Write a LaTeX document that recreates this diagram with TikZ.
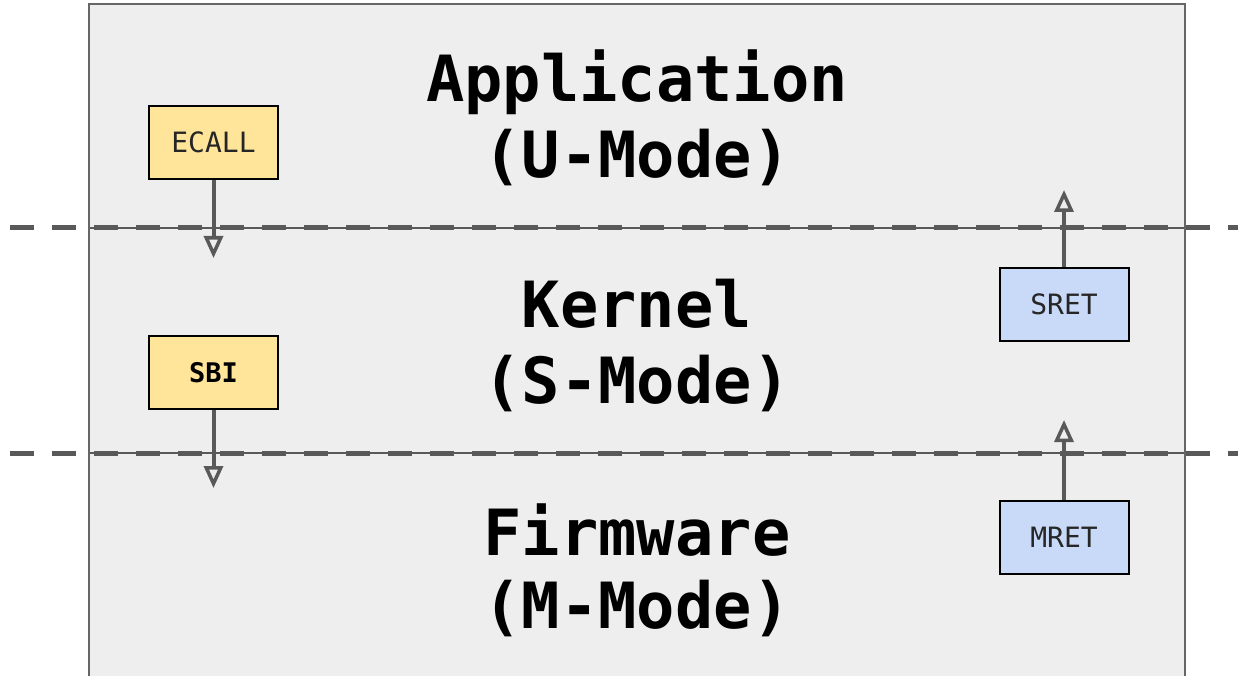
\documentclass[tikz,border=0pt]{standalone}
\usepackage{fontspec}
\usetikzlibrary{arrows.meta}
\newfontfamily\monofam{DejaVu Sans Mono}
\definecolor{bgc}{HTML}{EEEEEE}
\definecolor{lnc}{HTML}{595959}
\definecolor{edgec}{HTML}{666666}
\definecolor{yelc}{HTML}{FFE599}
\definecolor{bluc}{HTML}{C9DAF8}
\begin{document}
\begin{tikzpicture}[x=1pt,y=-1pt,
  titletext/.style={font=\monofam\bfseries\fontsize{63.7}{76}\selectfont, anchor=base, inner sep=0pt},
  instr/.style={draw=black, line width=2pt, minimum width=129pt, minimum height=73pt, inner sep=0pt,
                font=\monofam\fontsize{28}{34}\selectfont, text=black!85},
  yelbox/.style={instr, fill=yelc},
  blubox/.style={instr, fill=bluc},
  thinline/.style={draw=lnc, line width=2pt},
  dashline/.style={draw=lnc, line width=5pt, dash pattern=on 24pt off 18pt},
  arr/.style={draw=lnc, line width=4pt, -{Triangle[open, length=22pt, width=19pt, line width=3.5pt]}}
]
\useasboundingbox (0,0) rectangle (1238,676);
% background panel
\fill[bgc] (89,4) rectangle (1185,690);
% level separators
\coordinate (s1l) at (89,228);
\coordinate (s1r) at (1185,228);
\coordinate (d1l) at (10,228);
\coordinate (d1r) at (1238,228);
\coordinate (s2l) at (89,453);
\coordinate (s2r) at (1185,453);
\coordinate (d2l) at (10,453);
\coordinate (d2r) at (1238,453);
\draw[thinline] (s1l) -- (s1r);
\draw[thinline] (s2l) -- (s2r);
\draw[dashline] (d1l) -- (d1r);
\draw[dashline] (d2l) -- (d2r);
% panel border
\draw[draw=edgec, line width=2pt] (89,690) -- (89,4) -- (1185,4) -- (1185,690);
% titles
\node[titletext] (app) at (637,102) {Application};
\node[titletext] (umode) at (637,178) {(U-Mode)};
\node[titletext] (kern) at (637,327) {Kernel};
\node[titletext] (smode) at (637,403) {(S-Mode)};
\node[titletext] (firm) at (637,555) {Firmware};
\node[titletext] (mmode) at (637,628) {(M-Mode)};
% instruction boxes
\node[yelbox] (ecall) at (213.5,142.5) {ECALL};
\node[yelbox, font=\monofam\bfseries\fontsize{27}{32}\selectfont, text=black] (sbi) at (213.5,372.5) {SBI};
\node[blubox] (sret) at (1064,304) {SRET};
\node[blubox] (mret) at (1064,537) {MRET};
% arrows
\coordinate (ecallend) at (213.5,258);
\coordinate (sbiend) at (213.5,488);
\coordinate (sretend) at (1064,190);
\coordinate (mretend) at (1064,420);
\draw[arr] (ecall.south) -- (ecallend);
\draw[arr] (sbi.south) -- (sbiend);
\draw[arr] (sret.north) -- (sretend);
\draw[arr] (mret.north) -- (mretend);
\end{tikzpicture}
\end{document}
